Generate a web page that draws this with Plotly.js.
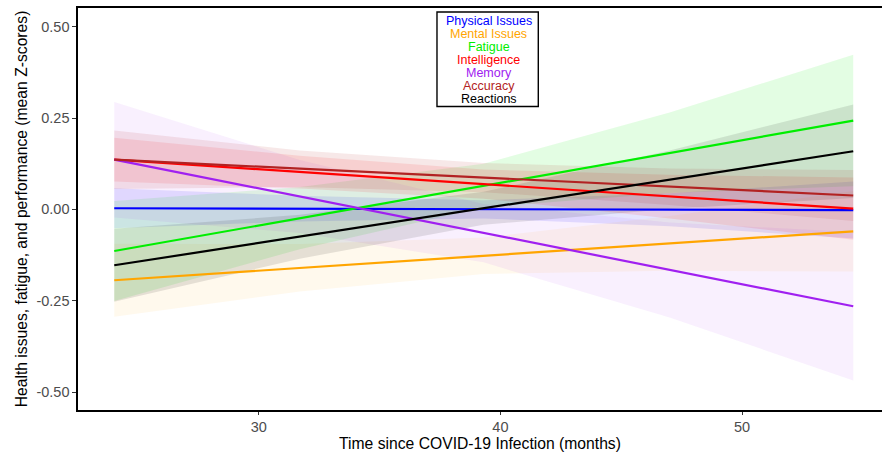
<!DOCTYPE html>
<html>
<head>
<meta charset="utf-8">
<script src="https://cdn.plot.ly/plotly-3.0.1.min.js"></script>
<style>html,body{margin:0;padding:0;background:#fff;}#chart{width:882px;height:452px;}</style>
</head>
<body>
<div id="chart"></div>
<script>
// ---- data ----
const seriesNames = ["Physical Issues","Mental Issues","Fatigue","Intelligence","Memory","Accuracy","Reactions"];
const seriesColors = ["#0000ff","#ffa500","#00ee00","#ff0000","#a020f0","#b22222","#000000"];
const bandAlpha = [0.10, 0.07, 0.11, 0.10, 0.065, 0.10, 0.10];

// fitted lines: start and end of time window (months)
const lineX = [24.02, 54.6];
const physicalLine = [0.003, -0.002];
const mentalLine = [-0.194, -0.060];
const fatigueLine = [-0.114, 0.243];
const intelligenceLine = [0.136, 0.002];
const memoryLine = [0.136, -0.265];
const accuracyLine = [0.136, 0.038];
const reactionsLine = [-0.153, 0.159];

// confidence bands sampled along the time window
const bandX = [24.02, 31.7, 39.3, 47.0, 54.6];
const physicalLo = [-0.052, -0.033, -0.025, -0.046, -0.080];
const physicalHi = [0.058, 0.037, 0.025, 0.044, 0.076];
const mentalLo = [-0.294, -0.225, -0.177, -0.168, -0.170];
const mentalHi = [-0.094, -0.095, -0.077, -0.018, 0.050];
const fatigueLo = [-0.251, -0.109, 0.005, 0.045, 0.063];
const fatigueHi = [0.023, 0.061, 0.125, 0.265, 0.423];
const intelligenceLo = [0.076, 0.057, 0.029, -0.025, -0.083];
const intelligenceHi = [0.196, 0.147, 0.109, 0.095, 0.087];
const memoryLo = [-0.022, -0.065, -0.145, -0.296, -0.468];
const memoryHi = [0.294, 0.135, 0.015, -0.036, -0.062];
const accuracyLo = [0.056, 0.061, 0.047, 0.012, -0.032];
const accuracyHi = [0.216, 0.161, 0.127, 0.112, 0.108];
const reactionsLo = [-0.253, -0.135, -0.042, 0.001, 0.031];
const reactionsHi = [-0.053, -0.015, 0.048, 0.161, 0.287];

const xTickVals = [30, 40, 50];
const yTickVals = [-0.5, -0.25, 0, 0.25, 0.5];
const yTickText = ["-0.50", "-0.25", "0.00", "0.25", "0.50"];

const lines = [physicalLine, mentalLine, fatigueLine, intelligenceLine, memoryLine, accuracyLine, reactionsLine];
const los = [physicalLo, mentalLo, fatigueLo, intelligenceLo, memoryLo, accuracyLo, reactionsLo];
const his = [physicalHi, mentalHi, fatigueHi, intelligenceHi, memoryHi, accuracyHi, reactionsHi];

function rgba(hex, a) {
  const r = parseInt(hex.slice(1,3),16), g = parseInt(hex.slice(3,5),16), b = parseInt(hex.slice(5,7),16);
  return `rgba(${r},${g},${b},${a})`;
}

const traces = [];
seriesNames.forEach((name, i) => {
  traces.push({
    type: "scatter", mode: "lines", hoverinfo: "skip", showlegend: false,
    x: bandX.concat(bandX.slice().reverse()),
    y: his[i].concat(los[i].slice().reverse()),
    fill: "toself", fillcolor: rgba(seriesColors[i], bandAlpha[i]),
    line: {width: 0, color: "rgba(0,0,0,0)"}
  });
});
seriesNames.forEach((name, i) => {
  traces.push({
    type: "scatter", mode: "lines", name: name, showlegend: false,
    x: lineX, y: lines[i],
    line: {color: seriesColors[i], width: 2.2}
  });
});

// legend as coloured text in a box
const legTop = 0.9677, legStep = 0.0323;
const annotations = seriesNames.map((name, i) => ({
  xref: "paper", yref: "paper", x: 0.511, y: legTop - i * legStep,
  xanchor: "center", yanchor: "middle", showarrow: false,
  text: name, font: {family: "Liberation Sans, Arial, sans-serif", size: 12.5, color: seriesColors[i]}
}));

const layout = {
  width: 882, height: 452,
  margin: {l: 78, r: 0, t: 8, b: 42},
  paper_bgcolor: "#ffffff", plot_bgcolor: "#ffffff",
  font: {family: "Liberation Sans, Arial, sans-serif"},
  xaxis: {
    range: [22.52, 55.79], tickvals: xTickVals, ticks: "outside", ticklen: 3, tickcolor: "#333333",
    showgrid: false, zeroline: false, showline: true, linecolor: "#000000", linewidth: 1.6, mirror: true,
    tickfont: {size: 14.5, color: "#4d4d4d"},
    title: {text: "Time since COVID-19 Infection (months)", font: {size: 15.7, color: "#000000"}, standoff: 1}
  },
  yaxis: {
    range: [-0.549, 0.551], tickvals: yTickVals, ticktext: yTickText, ticks: "outside", ticklen: 4, tickcolor: "#333333",
    showgrid: false, zeroline: false, showline: true, linecolor: "#000000", linewidth: 1.6, mirror: false,
    tickfont: {size: 14.5, color: "#4d4d4d"},
    title: {text: "Health issues, fatigue, and performance (mean Z-scores)", font: {size: 15.7, color: "#000000"}, standoff: 5}
  },
  shapes: [{
    type: "rect", xref: "paper", yref: "paper",
    x0: 0.4465, x1: 0.5725, y0: 0.755, y1: 0.99,
    line: {color: "#000000", width: 1.4}, fillcolor: "#ffffff", layer: "above"
  }],
  annotations: annotations
};

Plotly.newPlot("chart", traces, layout, {displayModeBar: false, staticPlot: true});
</script>
</body>
</html>
